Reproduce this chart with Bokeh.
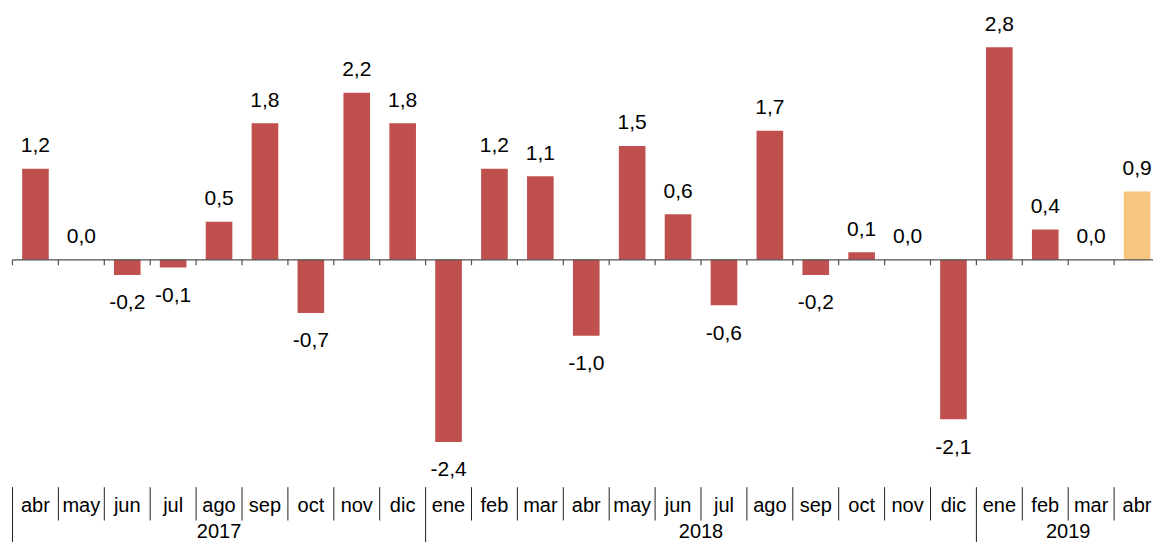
from bokeh.plotting import figure
from bokeh.models import Range1d, ColumnDataSource
from bokeh.core.properties import value
from bokeh.embed import file_html
from bokeh.resources import INLINE

# ---- data ----
months = ["abr", "may", "jun", "jul", "ago", "sep", "oct", "nov", "dic",
          "ene", "feb", "mar", "abr", "may", "jun", "jul", "ago", "sep", "oct", "nov", "dic",
          "ene", "feb", "mar", "abr"]
years = ["2017", "2018", "2019"]
year_sizes = [9, 12, 4]
values = [1.2, 0.0, -0.2, -0.1, 0.5, 1.8, -0.7, 2.2, 1.8,
          -2.4, 1.2, 1.1, -1.0, 1.5, 0.6, -0.6, 1.7, -0.2, 0.1, 0.0, -2.1,
          2.8, 0.4, 0.0, 0.9]

BAR = "#C0504D"
HIGHLIGHT = "#F6C680"
colors = [BAR] * (len(values) - 1) + [HIGHLIGHT]

# ---- geometry ----
PX = 45.9      # pixels per category
PY = 75.9      # pixels per unit
W, H = 1153, 542
x_start = -12.0 / PX
x_end = x_start + W / PX
zero_px = 259.3
y_end = zero_px / PY
y_start = y_end - H / PY

n = len(values)
xs = [i + 0.5 for i in range(n)]
labels = [f"{v:.1f}".replace(".", ",") for v in values]
label_y = [v + 0.31 if v >= 0 else v - 0.362 for v in values]

p = figure(width=W, height=H, x_range=Range1d(x_start, x_end),
           y_range=Range1d(y_start, y_end), output_backend="svg",
           toolbar_location=None, x_axis_location=None, y_axis_location=None,
           min_border=0, min_border_left=0, min_border_right=0,
           min_border_top=0, min_border_bottom=0)
p.grid.visible = False
p.outline_line_color = None
p.background_fill_color = "white"
p.border_fill_color = "white"

src = ColumnDataSource(dict(x=xs, top=values, color=colors, label=labels, ly=label_y, month=months))
p.vbar(x="x", top="top", bottom=0, width=0.58, fill_color="color", line_color=None, source=src)

# zero axis line with ticks at category boundaries
p.segment(x0=[0], y0=[0], x1=[x_end], y1=[0], line_color="#505050", line_width=1.3)
bounds = list(range(n + 1))
tick_len = 5.5 / PY
p.segment(x0=bounds, y0=[0] * len(bounds), x1=bounds, y1=[-tick_len] * len(bounds),
          line_color="#505050", line_width=1.2)

# value labels
p.text(x="x", y="ly", text="label", source=src, text_align="center", text_baseline="middle",
       text_font=value("Liberation Sans"), text_font_size=value("21px"), text_color="#000000")

# category labels
month_y = -3.224
p.text(x="x", y=month_y, text="month", source=src, text_align="center", text_baseline="middle",
       text_font=value("Liberation Sans"), text_font_size=value("20px"), text_color="#000000")

# separators
year_bounds = [0]
for s in year_sizes:
    year_bounds.append(year_bounds[-1] + s)
sep_top = -2.996
sep_short = -3.435
short_b = [b for b in bounds if b not in year_bounds]
p.segment(x0=short_b, y0=[sep_top] * len(short_b), x1=short_b, y1=[sep_short] * len(short_b),
          line_color="#222222", line_width=1)
p.segment(x0=year_bounds, y0=[sep_top] * len(year_bounds), x1=year_bounds,
          y1=[y_start] * len(year_bounds), line_color="#222222", line_width=1)

# year labels
year_x = [(year_bounds[i] + year_bounds[i + 1]) / 2 for i in range(len(years))]
p.text(x=year_x, y=[-3.567] * len(years), text=years, text_align="center", text_baseline="middle",
       text_font=value("Liberation Sans"), text_font_size=value("20px"), text_color="#000000")

open("out.html", "w").write(file_html(p, INLINE))
